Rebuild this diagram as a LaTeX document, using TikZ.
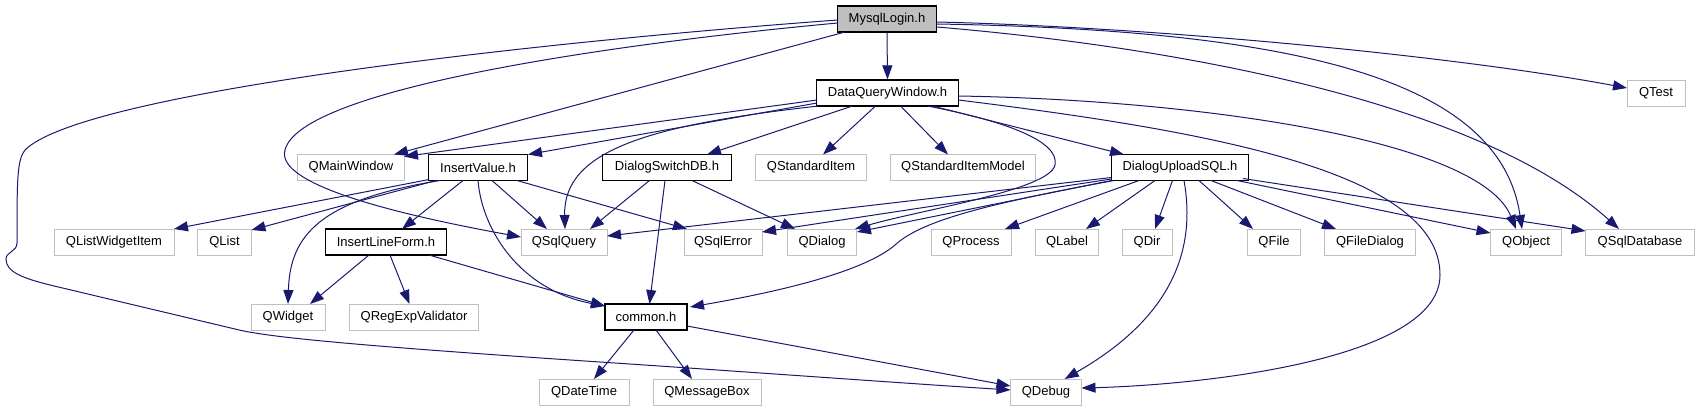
\documentclass[tikz,border=0pt]{standalone}
\usepackage{fontspec}
\setmainfont{Liberation Sans}
\usetikzlibrary{arrows.meta,calc}
\definecolor{edgec}{HTML}{191970}
\definecolor{grayb}{HTML}{BFBFBF}
\begin{document}
\begin{tikzpicture}[x=0.75pt,y=-0.75pt,
  box/.style={draw=black,rectangle,minimum height=19.5pt,inner sep=0pt,font=\fontsize{9.75}{11}\selectfont,line width=0.9pt,fill=white},
  ext/.style={box,draw=grayb,line width=0.75pt},
  e/.style={draw=edgec,line width=0.75pt,-{Triangle[length=10.5pt,width=7.5pt]}}]
\useasboundingbox (0,0) rectangle (1698,411);
% rank 0
\node[box,fill=grayb,minimum width=74.25pt] (ml) at (887,19) {MysqlLogin.h};
% rank 1
\node[box,minimum width=106.5pt] (dqw) at (887.5,93) {DataQueryWindow.h};
\node[ext,minimum width=43.5pt] (qtest) at (1656,93) {QTest};
% rank 2
\node[ext,minimum width=80.25pt] (qmw) at (351,167.5) {QMainWindow};
\node[box,minimum width=74.25pt] (iv) at (478,167.5) {InsertValue.h};
\node[box,minimum width=96.75pt] (dsdb) at (667,167.5) {DialogSwitchDB.h};
\node[ext,minimum width=83.25pt] (qsi) at (811,167.5) {QStandardItem};
\node[ext,minimum width=108.75pt] (qsim) at (963,167.5) {QStandardItemModel};
\node[box,minimum width=102.75pt] (dus) at (1180,167.5) {DialogUploadSQL.h};
% rank 3
\node[ext,minimum width=90pt] (qlwi) at (114,242) {QListWidgetItem};
\node[ext,minimum width=40.5pt] (qlist) at (224.5,242) {QList};
\node[box,minimum width=90.75pt] (ilf) at (386,242) {InsertLineForm.h};
\node[ext,minimum width=64.5pt] (qsq) at (564,242) {QSqlQuery};
\node[ext,minimum width=58.5pt] (qse) at (723,242) {QSqlError};
\node[ext,minimum width=51.75pt] (qdlg) at (822,242) {QDialog};
\node[ext,minimum width=60pt] (qproc) at (971,242) {QProcess};
\node[ext,minimum width=47.25pt] (qlabel) at (1067,242) {QLabel};
\node[ext,minimum width=37.5pt] (qdir) at (1147,242) {QDir};
\node[ext,minimum width=39.75pt] (qfile) at (1274,242) {QFile};
\node[ext,minimum width=68.25pt] (qfd) at (1370,242) {QFileDialog};
\node[ext,minimum width=53.25pt] (qobj) at (1526,242) {QObject};
\node[ext,minimum width=81.75pt] (qsdb) at (1640,242) {QSqlDatabase};
% rank 4
\node[ext,minimum width=55.5pt] (qw) at (288,317) {QWidget};
\node[ext,minimum width=96.75pt] (qrev) at (414,317) {QRegExpValidator};
\node[box,minimum width=61.5pt] (common) at (646,317) {common.h};
% rank 5
\node[ext,minimum width=67.5pt] (qdt) at (584,392) {QDateTime};
\node[ext,minimum width=81pt] (qmb) at (707,392) {QMessageBox};
\node[ext,minimum width=53.25pt] (qdbg) at (1046,392) {QDebug};

% MysqlLogin.h
\draw[e] (ml.south) -- (dqw.north);
\draw[e] ($(ml)+(50,3)$) .. controls (1150,27) and (1450,55) .. ($(qtest)+(-29,-5)$);
\draw[e] ($(ml)+(50,5)$) .. controls (1300,30) and (1500,80) .. ($(qobj)+(-4,-13)$);
\draw[e] ($(ml)+(50,8)$) .. controls (1150,45) and (1470,95) .. ($(qsdb)+(-21,-13)$);
\draw[e] ($(ml)+(-42,13)$) -- ($(qmw)+(43,-13)$);
\draw[e] ($(ml)+(-49.5,4)$) .. controls (600,45) and (300,90) .. (285,150) .. controls (275,185) and (400,215) .. ($(qsq)+(-43,-5)$);
\draw[e] ($(ml)+(-49.5,1)$) .. controls (500,45) and (80,95) .. (25,150) .. controls (17,160) and (17,180) .. (17,243) .. controls (17,252) and (5,252) .. (6,260) .. controls (7,272) and (22,278) .. (50,285) -- (235,329) .. controls (262,336) and (330,344) .. (600,362) .. controls (750,372) and (900,383) .. ($(qdbg)+(-35.5,-2)$);

% DataQueryWindow.h
\draw[e] ($(dqw)+(-70.5,7)$) -- ($(qmw)+(53,-11)$);
\draw[e] ($(dqw)+(-70.5,10)$) -- ($(iv)+(50,-13)$);
\draw[e] ($(dqw)+(-69,13)$) .. controls (650,125) and (563,150) .. ($(qsq)+(1,-13)$);
\draw[e] ($(dqw)+(-35,13)$) -- ($(dsdb)+(40,-13)$);
\draw[e] ($(dqw)+(-12,13)$) -- ($(qsi)+(12,-13)$);
\draw[e] ($(dqw)+(13,13)$) -- ($(qsim)+(-15,-13)$);
\draw[e] ($(dqw)+(45,13)$) -- ($(dus)+(-56,-13)$);
\draw[e] ($(dqw)+(40,13)$) .. controls (1000,120) and (1060,140) .. (1055,165) .. controls (1050,190) and (920,210) .. ($(qdlg)+(33,-13)$);
\draw[e] ($(dqw)+(71,3)$) .. controls (1200,100) and (1480,140) .. ($(qobj)+(-10,-13)$);
\draw[e] ($(dqw)+(71,7)$) .. controls (1200,130) and (1440,170) .. (1440,275) .. controls (1440,360) and (1200,385) .. ($(qdbg)+(35.5,-4)$);

% InsertValue.h
\draw[e] ($(iv)+(-49,12)$) -- ($(qlwi)+(60,-13)$);
\draw[e] ($(iv)+(-42,13)$) -- ($(qlist)+(27,-12)$);
\draw[e] ($(iv)+(-38,13)$) .. controls (320,200) and (290,235) .. ($(qw)+(0,-13)$);
\draw[e] ($(iv)+(-15,13)$) -- ($(ilf)+(16,-13)$);
\draw[e] ($(iv)+(0,13)$) .. controls (482,230) and (520,290) .. ($(common)+(-41,-11)$);
\draw[e] ($(iv)+(14,13)$) -- ($(qsq)+(-17,-13)$);
\draw[e] ($(iv)+(39,13)$) -- ($(qse)+(-36,-13)$);

% InsertLineForm.h
\draw[e] ($(ilf)+(-17,13)$) -- ($(qw)+(22,-13)$);
\draw[e] ($(ilf)+(4,13)$) -- ($(qrev)+(-4.5,-13)$);
\draw[e] ($(ilf)+(43,13)$) -- ($(common)+(-41,-11)$);

% DialogSwitchDB.h
\draw[e] ($(dsdb)+(-17.5,13)$) -- ($(qsq)+(26,-13)$);
\draw[e] ($(dsdb)+(-2,13)$) -- ($(common)+(3.5,-13)$);
\draw[e] ($(dsdb)+(25,13)$) -- ($(qdlg)+(-27,-13)$);

% DialogUploadSQL.h
\draw[e] ($(dus)+(-68.5,10)$) -- ($(qsq)+(43,-6)$);
\draw[e] ($(dus)+(-68.5,11.5)$) -- ($(qse)+(39,-10)$);
\draw[e] ($(dus)+(-68.5,13)$) -- ($(qdlg)+(35,-10)$);
\draw[e] ($(dus)+(-66,13)$) .. controls (980,205) and (920,222) .. (895,245) .. controls (860,275) and (760,295) .. ($(common)+(44,-10)$);
\draw[e] ($(dus)+(-41,13)$) -- ($(qproc)+(34,-13)$);
\draw[e] ($(dus)+(-25,13)$) -- ($(qlabel)+(19,-13)$);
\draw[e] ($(dus)+(-7.5,13)$) -- ($(qdir)+(8,-13)$);
\draw[e] ($(dus)+(4,13)$) .. controls (1200,270) and (1150,330) .. ($(qdbg)+(18.7,-13)$);
\draw[e] ($(dus)+(19,13)$) -- ($(qfile)+(-21,-13)$);
\draw[e] ($(dus)+(31,13)$) -- ($(qfd)+(-34,-13)$);
\draw[e] ($(dus)+(57,13)$) -- ($(qobj)+(-35.5,-9)$);
\draw[e] ($(dus)+(63,11)$) -- ($(qsdb)+(-54.5,-11)$);

% common.h
\draw[e] ($(common)+(-12,13)$) -- ($(qdt)+(10,-13)$);
\draw[e] ($(common)+(10,13)$) -- ($(qmb)+(-15,-13)$);
\draw[e] ($(common)+(41,9)$) -- ($(qdbg)+(-35.5,-6)$);
\end{tikzpicture}
\end{document}
